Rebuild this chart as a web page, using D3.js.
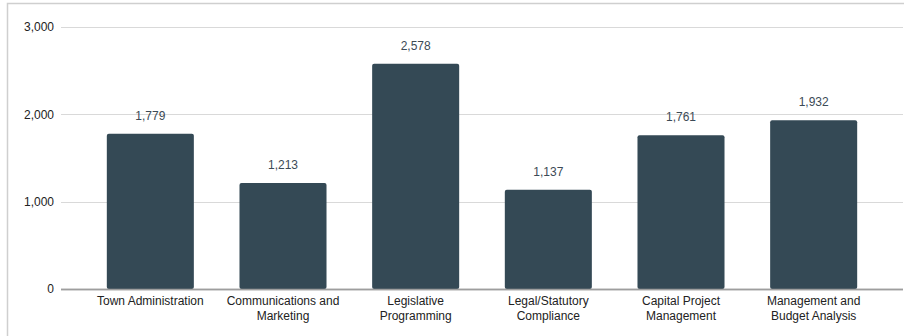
<!DOCTYPE html>
<html>
<head>
<meta charset="utf-8">
<script src="https://cdn.jsdelivr.net/npm/d3@7"></script>
<style>
  body { margin: 0; background: #fff; }
  svg text { font-family: "Liberation Sans", Arial, sans-serif; }
</style>
</head>
<body>
<div id="chart"></div>
<script>
let categories = [
  ["Town Administration"],
  ["Communications and", "Marketing"],
  ["Legislative", "Programming"],
  ["Legal/Statutory", "Compliance"],
  ["Capital Project", "Management"],
  ["Management and", "Budget Analysis"],
];
let values = [1779, 1213, 2578, 1137, 1761, 1932];
let yTicks = [0, 1000, 2000, 3000];

let svgWidth = 907;
let svgHeight = 336;
let gridLeft = 61;
let gridRight = 903;

let svg = d3
  .select("#chart")
  .append("svg")
  .attr("width", svgWidth)
  .attr("height", svgHeight);

// frame (top and left edges visible)
svg
  .append("path")
  .attr("d", "M7.5,336 L7.5,3.5 L904,3.5")
  .attr("fill", "none")
  .attr("stroke", "#cfcfcf")
  .attr("stroke-width", 1.5);

let keys = categories.map((c) => c.join(" "));

let xScale = d3
  .scaleBand()
  .domain(keys)
  .range([84, 880])
  .paddingInner(0.344)
  .paddingOuter(0.172);

let yScale = d3.scaleLinear().domain([0, 3000]).range([289, 27]);

// gridlines
svg
  .append("g")
  .selectAll("line")
  .data(yTicks)
  .enter()
  .append("line")
  .attr("x1", gridLeft)
  .attr("x2", gridRight)
  .attr("y1", (d) => Math.round(yScale(d)) + 0.5)
  .attr("y2", (d) => Math.round(yScale(d)) + 0.5)
  .attr("stroke", (d) => (d === 0 ? "#9e9e9e" : "#d9d9d9"))
  .attr("stroke-width", (d) => (d === 0 ? 1.5 : 1));

// y axis labels
let yAxis = d3
  .axisLeft(yScale)
  .tickValues(yTicks)
  .tickFormat(d3.format(","))
  .tickSize(0)
  .tickPadding(0);

let yG = svg
  .append("g")
  .attr("transform", "translate(54,0)")
  .call(yAxis);
yG.select(".domain").remove();
yG.selectAll("text")
  .attr("font-size", 12)
  .attr("fill", "#222")
  .style("font-family", "'Liberation Sans', Arial, sans-serif");

// bars
svg
  .append("g")
  .selectAll("rect")
  .data(values)
  .enter()
  .append("rect")
  .attr("x", (d, i) => xScale(keys[i]))
  .attr("width", xScale.bandwidth())
  .attr("y", (d) => yScale(d))
  .attr("height", (d) => yScale(0) - yScale(d))
  .attr("rx", 2)
  .attr("fill", "#344955");

// redraw baseline over bars
svg
  .append("line")
  .attr("x1", gridLeft)
  .attr("x2", gridRight)
  .attr("y1", yScale(0) + 0.5)
  .attr("y2", yScale(0) + 0.5)
  .attr("stroke", "#9e9e9e")
  .attr("stroke-width", 1.5);

// value labels
svg
  .append("g")
  .selectAll("text")
  .data(values)
  .enter()
  .append("text")
  .attr("x", (d, i) => xScale(keys[i]) + xScale.bandwidth() / 2)
  .attr("y", (d) => yScale(d) - 14)
  .attr("text-anchor", "middle")
  .attr("font-size", 12)
  .attr("fill", "#3c4a56")
  .text((d) => d3.format(",")(d));

// category labels
let xLabels = svg
  .append("g")
  .selectAll("text")
  .data(categories)
  .enter()
  .append("text")
  .attr("x", (d, i) => xScale(keys[i]) + xScale.bandwidth() / 2)
  .attr("y", 305)
  .attr("text-anchor", "middle")
  .attr("font-size", 12)
  .attr("fill", "#222");

xLabels
  .selectAll("tspan")
  .data((d) => d)
  .enter()
  .append("tspan")
  .attr("x", function () {
    return d3.select(this.parentNode).attr("x");
  })
  .attr("dy", (d, i) => (i === 0 ? 0 : 14.5))
  .text((d) => d);
</script>
</body>
</html>
